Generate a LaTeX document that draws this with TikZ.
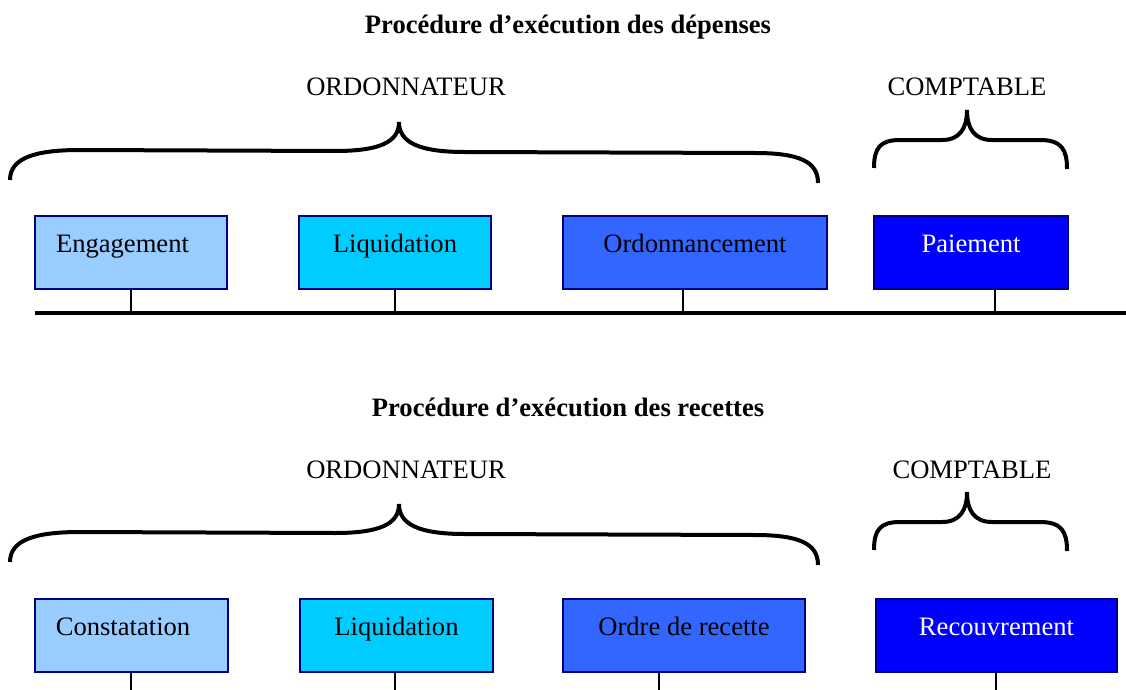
\documentclass[tikz,border=0pt]{standalone}
\usepackage{fontspec}
\setmainfont{Liberation Serif}
\usetikzlibrary{positioning}
\definecolor{paleblue}{HTML}{99CCFF}
\definecolor{skyblue}{HTML}{00CCFF}
\definecolor{midblue}{HTML}{3366FF}
\definecolor{pureblue}{HTML}{0000FF}
\definecolor{navyline}{HTML}{000080}
\tikzset{
  phase/.style={draw=navyline, line width=1.6pt, inner sep=0pt, minimum height=73pt,
    text height=12pt, text depth=12pt},
  role/.style={anchor=base},
  heading/.style={anchor=base, font=\fontsize{26.6}{32}\selectfont\bfseries},
  accolade/.style={line width=4pt},
  tige/.style={line width=1.5pt},
  axe/.style={line width=4.5pt}
}
\begin{document}
\begin{tikzpicture}[x=1pt,y=-1pt,font=\fontsize{26.6}{32}\selectfont]
\useasboundingbox (0,0) rectangle (1126,690);

% braces, same for both rows
\foreach \dy in {0,382}
{
	\draw[accolade, shift={(0,\dy)}] (10,180) .. controls (10,158) and (35,150) .. (80,150)
		-- (335,151) .. controls (380,151) and (399,142) .. (399,122)
		.. controls (399,142) and (418,152) .. (465,152)
		-- (755,153) .. controls (800,153) and (818,162) .. (818,183);
	\draw[accolade, shift={(0,\dy)}] (874,168) .. controls (874,148) and (880,140) .. (900,140)
		-- (942,140) .. controls (960,140) and (967,128) .. (967,110)
		.. controls (967,128) and (974,140) .. (992,140)
		-- (1040,140) .. controls (1062,140) and (1067,150) .. (1067,169);
}

% depenses
\node[heading] (titreD) at (568,34) {Procédure d’exécution des dépenses};
\node[role] (ordoD) at (406,96) {ORDONNATEUR};
\node[role] (comptaD) at (967,96) {COMPTABLE};

\node[phase, fill=paleblue, minimum width=192pt] (engag) at (131,252.5) {Engagement\kern17pt};
\node[phase, fill=skyblue, minimum width=192pt] (liqD) at (395,252.5) {Liquidation};
\node[phase, fill=midblue, minimum width=264pt] (ordon) at (695,252.5) {Ordonnancement};
\node[phase, fill=pureblue, minimum width=194pt, text=white] (paie) at (971,252.5) {Paiement};

\coordinate (axeG) at (35,313);
\coordinate (axeD) at (1126,313);
\coordinate (pE) at (131,313);
\coordinate (pL) at (395,313);
\coordinate (pO) at (683,313);
\coordinate (pP) at (995,313);
\draw[axe] (axeG) -- (axeD);
\foreach \b/\p in {engag/pE,liqD/pL,ordon/pO,paie/pP}
	\draw[tige] (\b.south -| \p) -- (\p);

% recettes
\node[heading] (titreR) at (568,416) {Procédure d’exécution des recettes};
\node[role] (ordoR) at (406,478) {ORDONNATEUR};
\node[role] (comptaR) at (972,478) {COMPTABLE};

\node[phase, fill=paleblue, minimum width=193pt] (const) at (131.5,635.5) {Constatation\kern17pt};
\node[phase, fill=skyblue, minimum width=193pt] (liqR) at (396.5,635.5) {Liquidation};
\node[phase, fill=midblue, minimum width=242pt] (ordre) at (684,635.5) {Ordre de recette};
\node[phase, fill=pureblue, minimum width=241pt, text=white] (recouv) at (996.5,635.5) {Recouvrement};

\coordinate (qC) at (131,690);
\coordinate (qL) at (395,690);
\coordinate (qO) at (659,690);
\coordinate (qR) at (996,690);
\foreach \b/\p in {const/qC,liqR/qL,ordre/qO,recouv/qR}
	\draw[tige] (\b.south -| \p) -- (\p);
\end{tikzpicture}
\end{document}
